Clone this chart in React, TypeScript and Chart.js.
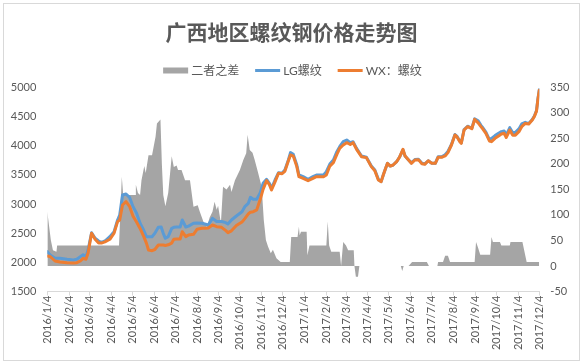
import React, { useEffect, useRef } from 'react';
import { Chart, registerables } from 'chart.js';

Chart.register(...registerables);

const titleText = '广西地区螺纹钢价格走势图';
const seriesNames = ['二者之差', 'LG螺纹', 'WX：螺纹'];
const seriesColors = ['#a5a5a5', '#5b9bd5', '#ed7d31'];

const xTickLabels = [
  '2016/1/4', '2016/2/4', '2016/3/4', '2016/4/4', '2016/5/4', '2016/6/4', '2016/7/4', '2016/8/4',
  '2016/9/4', '2016/10/4', '2016/11/4', '2016/12/4', '2017/1/4', '2017/2/4', '2017/3/4', '2017/4/4',
  '2017/5/4', '2017/6/4', '2017/7/4', '2017/8/4', '2017/9/4', '2017/10/4', '2017/11/4', '2017/12/4',
];
const leftTicks = [1500, 2000, 2500, 3000, 3500, 4000, 4500, 5000];
const rightTicks = [-50, 0, 50, 100, 150, 200, 250, 300, 350];

const lineDates = [
  '2016/1/4', '2016/1/8', '2016/1/15', '2016/1/22', '2016/2/1', '2016/2/10', '2016/2/15', '2016/2/20',
  '2016/2/24', '2016/2/28', '2016/3/2', '2016/3/7', '2016/3/12', '2016/3/17', '2016/3/21', '2016/3/26',
  '2016/4/2', '2016/4/8', '2016/4/13', '2016/4/16', '2016/4/20', '2016/4/25', '2016/4/30', '2016/5/5',
  '2016/5/10', '2016/5/15', '2016/5/20', '2016/5/24', '2016/5/27', '2016/6/1', '2016/6/5', '2016/6/10',
  '2016/6/14', '2016/6/17', '2016/6/20', '2016/6/24', '2016/6/29', '2016/7/2', '2016/7/6', '2016/7/11',
  '2016/7/14', '2016/7/19', '2016/7/23', '2016/7/30', '2016/8/4', '2016/8/11', '2016/8/15', '2016/8/20',
  '2016/8/26', '2016/9/1', '2016/9/8', '2016/9/14', '2016/9/17', '2016/9/22', '2016/9/29', '2016/10/7',
  '2016/10/11', '2016/10/16', '2016/10/19', '2016/10/23', '2016/10/28', '2016/11/2', '2016/11/6', '2016/11/11',
  '2016/11/15', '2016/11/18', '2016/11/23', '2016/11/28', '2016/12/3', '2016/12/7', '2016/12/12', '2016/12/15',
  '2016/12/19', '2016/12/24', '2016/12/27', '2017/1/2', '2017/1/9', '2017/1/16', '2017/1/21', '2017/1/31',
  '2017/2/4', '2017/2/9', '2017/2/14', '2017/2/19', '2017/2/23', '2017/2/28', '2017/3/5', '2017/3/10',
  '2017/3/14', '2017/3/19', '2017/3/26', '2017/4/2', '2017/4/9', '2017/4/14', '2017/4/19', '2017/4/23',
  '2017/4/26', '2017/4/29', '2017/5/2', '2017/5/6', '2017/5/10', '2017/5/15', '2017/5/19', '2017/5/24',
  '2017/5/27', '2017/6/1', '2017/6/5', '2017/6/10', '2017/6/15', '2017/6/20', '2017/6/24', '2017/6/29',
  '2017/7/4', '2017/7/9', '2017/7/13', '2017/7/18', '2017/7/23', '2017/7/27', '2017/8/1', '2017/8/6',
  '2017/8/9', '2017/8/13', '2017/8/15', '2017/8/19', '2017/8/24', '2017/8/30', '2017/9/3', '2017/9/8',
  '2017/9/12', '2017/9/15', '2017/9/19', '2017/9/24', '2017/9/27', '2017/10/2', '2017/10/7', '2017/10/11',
  '2017/10/15', '2017/10/18', '2017/10/23', '2017/10/27', '2017/10/31', '2017/11/5', '2017/11/9', '2017/11/14',
  '2017/11/19', '2017/11/24', '2017/11/27', '2017/11/30', '2017/12/2', '2017/12/4',
];

const lgValues = [
  2182, 2126, 2069, 2069, 2052, 2040, 2052, 2096,
  2131, 2096, 2211, 2508, 2412, 2365, 2343, 2365,
  2440, 2525, 2725, 2811, 3154, 3171, 3114, 2954,
  2840, 2669, 2554, 2440, 2440, 2440, 2497, 2600,
  2606, 2497, 2412, 2440, 2583, 2600, 2606, 2606,
  2725, 2606, 2620, 2669, 2675, 2669, 2657, 2640,
  2754, 2700, 2700, 2680, 2657, 2725, 2794, 2868,
  2954, 3011, 3114, 3080, 3080, 3194, 3354, 3423,
  3354, 3269, 3411, 3537, 3526, 3583, 3754, 3880,
  3850, 3668, 3497, 3468, 3423, 3468, 3497, 3497,
  3554, 3685, 3754, 3897, 3983, 4068, 4097, 4050,
  4068, 3954, 3823, 3800, 3651, 3583, 3423, 3383,
  3497, 3600, 3697, 3650, 3668, 3725, 3800, 3927,
  3823, 3754, 3705, 3762, 3768, 3698, 3688, 3740,
  3700, 3697, 3808, 3808, 3843, 3900, 4019, 4191,
  4158, 4076, 4048, 4276, 4333, 4298, 4459, 4425,
  4347, 4302, 4233, 4102, 4125, 4172, 4212, 4240,
  4251, 4180, 4308, 4227, 4227, 4287, 4372, 4400,
  4378, 4448, 4508, 4600, 4800, 4958,
];

const wxValues = [
  2110, 2100, 2023, 2006, 1994, 1989, 1994, 2023,
  2069, 2052, 2160, 2500, 2395, 2330, 2330, 2350,
  2395, 2500, 2697, 2725, 2983, 3040, 2960, 2790,
  2690, 2580, 2450, 2330, 2211, 2200, 2220, 2297,
  2297, 2297, 2290, 2300, 2330, 2394, 2400, 2400,
  2525, 2440, 2468, 2480, 2566, 2583, 2583, 2590,
  2640, 2611, 2600, 2543, 2508, 2540, 2630, 2690,
  2750, 2830, 2860, 2868, 2900, 3080, 3250, 3400,
  3330, 3240, 3380, 3526, 3520, 3560, 3740, 3840,
  3820, 3640, 3470, 3440, 3400, 3440, 3468, 3468,
  3497, 3650, 3708, 3850, 3954, 4011, 4051, 4020,
  4051, 3937, 3811, 3795, 3640, 3570, 3411, 3383,
  3497, 3600, 3697, 3650, 3668, 3725, 3800, 3937,
  3823, 3754, 3697, 3754, 3760, 3690, 3680, 3740,
  3700, 3697, 3800, 3800, 3823, 3880, 4011, 4183,
  4150, 4068, 4040, 4268, 4325, 4290, 4451, 4390,
  4325, 4280, 4211, 4080, 4068, 4125, 4165, 4200,
  4211, 4140, 4268, 4180, 4180, 4240, 4325, 4380,
  4370, 4440, 4500, 4592, 4792, 4950,
];

const diffDates = [
  '2016/1/4', '2016/1/6', '2016/1/9', '2016/1/12', '2016/1/17', '2016/1/18', '2016/4/15', '2016/4/19',
  '2016/4/21', '2016/5/8', '2016/5/9', '2016/5/12', '2016/5/15', '2016/5/17', '2016/5/21', '2016/5/23',
  '2016/5/27', '2016/6/1', '2016/6/6', '2016/6/8', '2016/6/13', '2016/6/15', '2016/6/17', '2016/6/20',
  '2016/6/24', '2016/6/29', '2016/7/2', '2016/7/6', '2016/7/8', '2016/7/13', '2016/7/18', '2016/7/25',
  '2016/7/30', '2016/8/5', '2016/8/8', '2016/8/13', '2016/8/18', '2016/8/22', '2016/8/26', '2016/8/29',
  '2016/9/1', '2016/9/3', '2016/9/7', '2016/9/10', '2016/9/15', '2016/9/20', '2016/9/22', '2016/9/27',
  '2016/10/4', '2016/10/9', '2016/10/13', '2016/10/15', '2016/10/18', '2016/10/22', '2016/10/25', '2016/10/30',
  '2016/11/4', '2016/11/7', '2016/11/10', '2016/11/13', '2016/11/17', '2016/11/20', '2016/11/25', '2016/12/1',
  '2016/12/14', '2016/12/16', '2016/12/25', '2016/12/27', '2016/12/28', '2016/12/30', '2017/1/7', '2017/1/8',
  '2017/1/11', '2017/2/4', '2017/2/6', '2017/2/8', '2017/2/11', '2017/2/23', '2017/2/25', '2017/2/28',
  '2017/3/4', '2017/3/7', '2017/3/15', '2017/3/16', '2017/3/18', '2017/3/21', '2017/3/23', '2017/5/21',
  '2017/5/23', '2017/5/25', '2017/6/1', '2017/6/6', '2017/6/27', '2017/6/30', '2017/7/12', '2017/7/13',
  '2017/7/20', '2017/7/23', '2017/7/27', '2017/7/30', '2017/9/3', '2017/9/5', '2017/9/8', '2017/9/11',
  '2017/9/25', '2017/9/27', '2017/9/29', '2017/10/9', '2017/10/11', '2017/10/23', '2017/10/24', '2017/11/10',
  '2017/11/16', '2017/12/4',
];

const diffValues = [
  106, 84, 51, 31, 28, 40, 40, 175,
  139, 139, 159, 143, 139, 168, 196, 182,
  217, 217, 253, 279, 287, 200, 139, 117,
  143, 215, 194, 197, 188, 188, 168, 168,
  116, 119, 106, 87, 77, 95, 106, 126,
  110, 118, 84, 155, 150, 159, 145, 168,
  188, 208, 221, 257, 227, 222, 208, 182,
  155, 90, 51, 38, 25, 32, 15, 8,
  8, 57, 57, 77, 60, 67, 67, 21,
  40, 40, 87, 40, 28, 28, 0, 47,
  40, 31, 31, 0, -21, -21, 0, 0,
  -10, 0, 0, 8, 8, 0, 0, 8,
  8, 20, 20, 8, 8, 47, 35, 22,
  22, 57, 47, 47, 40, 40, 47, 47,
  8, 8,
];

const BASE = Date.UTC(2016, 0, 4);
const toDay = (s: string) => {
  const [y, m, d] = s.split('/').map(Number);
  return (Date.UTC(y, m - 1, d) - BASE) / 86400000;
};

const TEXT = '#595959';
const LATIN = 'Lato, "Noto Sans CJK SC", sans-serif';

const framePlugin = {
  id: 'frameAndLegend',
  afterDraw(chart: any) {
    const ctx = chart.ctx as CanvasRenderingContext2D;
    ctx.save();
    ctx.strokeStyle = '#d9d9d9';
    ctx.lineWidth = 1;
    ctx.strokeRect(3.5, 3.5, chart.width - 7, chart.height - 7);

    ctx.font = '12px ' + LATIN;
    ctx.textBaseline = 'middle';
    ctx.textAlign = 'left';
    const symW = 25;
    const gapSym = 3;
    const gapItem = 16;
    const widths = seriesNames.map((n) => ctx.measureText(n).width);
    const total = widths.reduce((a, w) => a + symW + gapSym + w, 0) + gapItem * (seriesNames.length - 1);
    let x = (chart.width - total) / 2 + 1;
    const y = 70.5;
    seriesNames.forEach((name, i) => {
      if (i === 0) {
        ctx.fillStyle = seriesColors[i];
        ctx.fillRect(x, y - 3, symW, 6);
      } else {
        ctx.strokeStyle = seriesColors[i];
        ctx.lineWidth = 3;
        ctx.beginPath();
        ctx.moveTo(x, y);
        ctx.lineTo(x + symW, y);
        ctx.stroke();
      }
      ctx.fillStyle = TEXT;
      ctx.fillText(name, x + symW + gapSym, y + 0.5);
      x += symW + gapSym + widths[i] + gapItem;
    });
    ctx.restore();
  },
};

export default function App() {
  const ref = useRef<HTMLCanvasElement | null>(null);

  useEffect(() => {
    if (!ref.current) return;
    const lineData = (vals: number[]) => lineDates.map((d, i) => ({ x: toDay(d), y: vals[i] }));
    const xTickDays = xTickLabels.map(toDay);
    const chart = new Chart(ref.current, {
      type: 'line',
      data: {
        datasets: [
          {
            label: seriesNames[0],
            data: diffDates.map((d, i) => ({ x: toDay(d), y: diffValues[i] })),
            yAxisID: 'y1',
            borderWidth: 0,
            borderColor: 'rgba(0,0,0,0)',
            backgroundColor: seriesColors[0],
            fill: 'origin',
            pointRadius: 0,
            tension: 0,
            order: 3,
          },
          {
            label: seriesNames[1],
            data: lineData(lgValues),
            yAxisID: 'y',
            borderColor: seriesColors[1],
            backgroundColor: seriesColors[1],
            borderWidth: 3,
            borderJoinStyle: 'round',
            borderCapStyle: 'round',
            pointRadius: 0,
            fill: false,
            tension: 0,
            order: 2,
          },
          {
            label: seriesNames[2],
            data: lineData(wxValues),
            yAxisID: 'y',
            borderColor: seriesColors[2],
            backgroundColor: seriesColors[2],
            borderWidth: 3,
            borderJoinStyle: 'round',
            borderCapStyle: 'round',
            pointRadius: 0,
            fill: false,
            tension: 0,
            order: 1,
          },
        ],
      },
      options: {
        animation: false,
        responsive: false,
        devicePixelRatio: 1,
        layout: { padding: 0 },
        plugins: {
          legend: { display: false },
          tooltip: { enabled: false },
          title: {
            display: true,
            text: titleText,
            color: TEXT,
            font: { family: '"Noto Sans CJK SC", sans-serif', size: 21, weight: 'bold' },
            padding: { top: 19, bottom: 43.1 },
          },
        },
        scales: {
          x: {
            type: 'linear',
            min: xTickDays[0],
            max: xTickDays[xTickDays.length - 1],
            afterBuildTicks: (s: any) => {
              s.ticks = xTickDays.map((v) => ({ value: v }));
            },
            afterFit: (s: any) => {
              s.height = 72.5;
            },
            ticks: {
              autoSkip: false,
              maxRotation: 90,
              minRotation: 90,
              padding: 0,
              color: TEXT,
              font: { family: LATIN, size: 11 },
              callback: (_v: any, i: number) => xTickLabels[i],
            },
            grid: { display: true, drawOnChartArea: false, drawTicks: true, tickLength: 4, color: '#d9d9d9' },
            border: { display: true, color: '#d9d9d9' },
          },
          y: {
            position: 'left',
            min: leftTicks[0],
            max: leftTicks[leftTicks.length - 1],
            afterFit: (s: any) => {
              s.width = 47.3;
            },
            ticks: {
              stepSize: leftTicks[1] - leftTicks[0],
              padding: 11,
              color: TEXT,
              font: { family: LATIN, size: 11 },
              callback: (v: any) => String(v),
            },
            grid: { display: false, drawTicks: false },
            border: { display: false },
          },
          y1: {
            position: 'right',
            min: rightTicks[0],
            max: rightTicks[rightTicks.length - 1],
            afterFit: (s: any) => {
              s.width = 43.7;
            },
            ticks: {
              stepSize: rightTicks[1] - rightTicks[0],
              padding: 11,
              color: TEXT,
              font: { family: LATIN, size: 11 },
              callback: (v: any) => String(v),
            },
            grid: { display: false, drawTicks: false },
            border: { display: false },
          },
        },
      },
      plugins: [framePlugin],
    } as any);
    return () => chart.destroy();
  }, []);

  return (
    <div style={{ position: 'absolute', left: 0, top: 0, width: 583, height: 364, background: '#fff' }}>
      <canvas ref={ref} width={583} height={364} style={{ display: 'block' }} />
    </div>
  );
}
